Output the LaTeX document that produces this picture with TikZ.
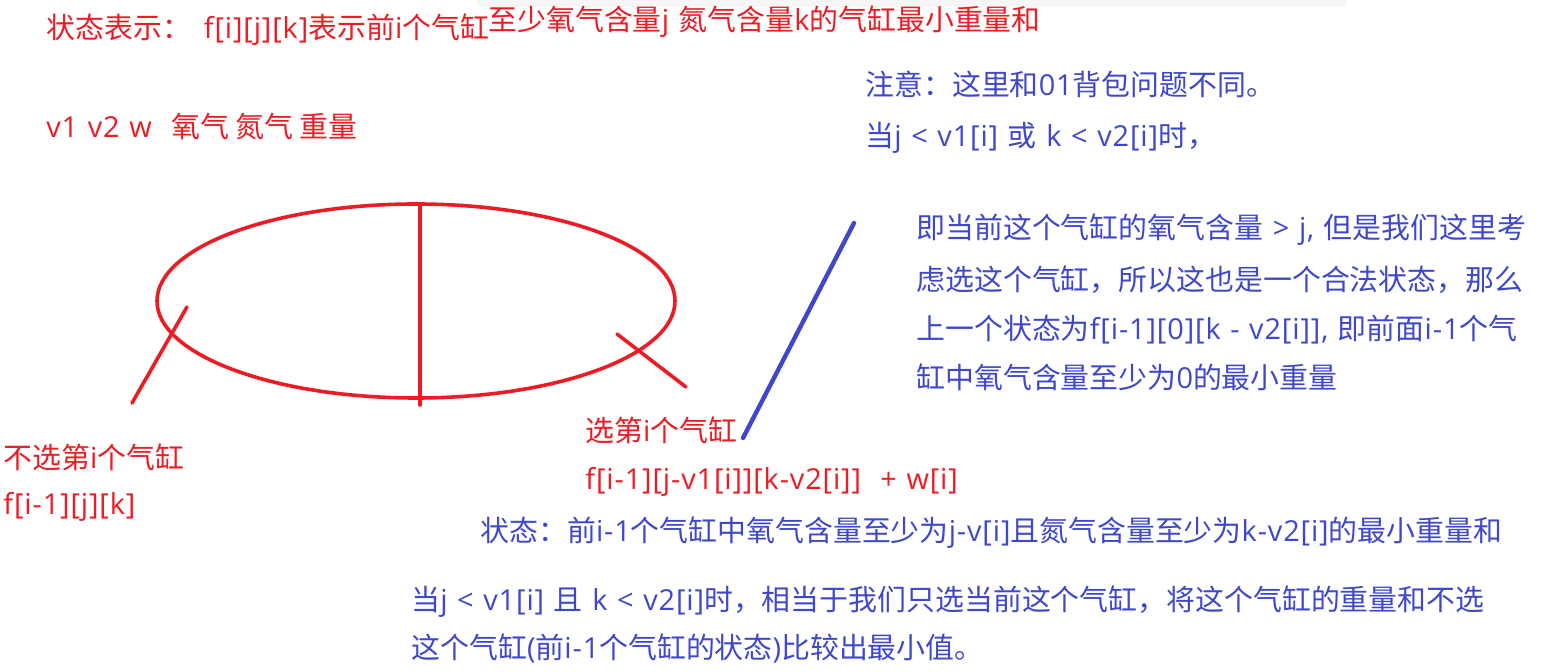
\documentclass[tikz,border=0pt]{standalone}
\usepackage{fontspec}
\setmainfont{Noto Sans CJK SC}
\newfontfamily\latinfont[LetterSpace=3.0, WordSpace=1.15]{Open Sans}
\newcommand{\lt}[1]{{\latinfont #1}}
\usetikzlibrary{positioning}
\definecolor{inkred}{RGB}{237,28,36}
\definecolor{inkblue}{RGB}{63,72,204}
\definecolor{stripgray}{RGB}{246,246,246}

\begin{document}
\begin{tikzpicture}[x=0.5pt, y=-0.5pt,
    every node/.style={font=\fontsize{14.45}{17}\selectfont, inner sep=0pt, anchor=base west},
    redtxt/.style={text=inkred},
    bluetxt/.style={text=inkblue},
    redpen/.style={draw=inkred, line width=1.8pt, line cap=round},
    bluepen/.style={draw=inkblue, line width=2.2pt, line cap=round}]
        \useasboundingbox (0,0) rectangle (1561,672);
        \fill[stripgray, rounded corners=3pt] (477,-10) rectangle (1347,7);

        % Sketch
        \draw[redpen] (416,301) ellipse [x radius=259, y radius=97];
        \draw[redpen] (420,205) -- (420,405);
        \draw[redpen] (187,307) -- (132,403);
        \draw[redpen] (617,334) -- (686,387);
        \draw[bluepen] (854,223) -- (743,438);

        % Red labels
        \node[redtxt] (title) at (46,39) {状态表示：\ \ \lt{f[i][j][k]}表示前\lt{i}个气缸};
        \node[redtxt] (titleb) at (488,31) {至少氧气含量\lt{j\ }氮气含量\lt{k}的气缸最小重量和};
        \node[redtxt] (vars) at (46,138) {\lt{v1 v2 w\ \ }氧气 氮气 重量};
        \node[redtxt] (skip) at (3,469) {不选第\lt{i}个气缸};
        \node[redtxt] (skipf) at (3,515) {\lt{f[i-1][j][k]}};
        \node[redtxt] (take) at (585,442) {选第\lt{i}个气缸};
        \node[redtxt] (takef) at (585,490) {\lt{f[i-1][j-v1[i]][k-v2[i]]\ \ + w[i]}};

        % Blue notes
        \node[bluetxt] (note) at (865,96) {注意：这里和\lt{01}背包问题不同。};
        \node[bluetxt] (noteif) at (865,147) {当\lt{j < v1[i] }或\lt{ k < v2[i]}时，};
        \node[bluetxt] (para1) at (916,239) {即当前这个气缸的氧气含量\lt{ > j, }但是我们这里考};
        \node[bluetxt] (para2) at (916,291) {虑选这个气缸，所以这也是一个合法状态，那么};
        \node[bluetxt] (para3) at (916,340) {上一个状态为\lt{f[i-1][0][k - v2[i]], }即前面\lt{i-1}个气};
        \node[bluetxt] (para4) at (916,389) {缸中氧气含量至少为\lt{0}的最小重量};
        \node[bluetxt] (takest) at (480,542) {状态：前\lt{i-1}个气缸中氧气含量至少为\lt{j-v[i]}且氮气含量至少为\lt{k-v2[i]}的最小重量和};
        \node[bluetxt] (both1) at (411,610) {当\lt{j < v1[i] }且\lt{ k < v2[i]}时，相当于我们只选当前这个气缸，将这个气缸的重量和不选};
        \node[bluetxt] (both2) at (411,658) {这个气缸\lt{(}前\lt{i-1}个气缸的状态\lt{)}比较出最小值。};
    \end{tikzpicture}
\end{document}
